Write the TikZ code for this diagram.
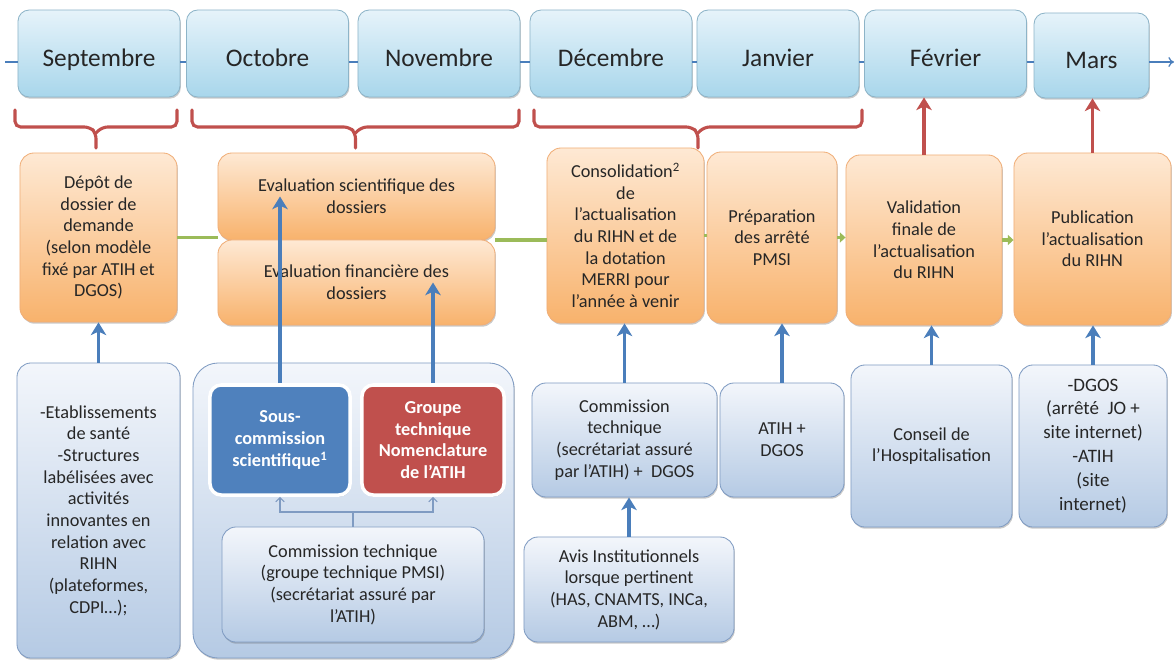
\documentclass[tikz,border=0pt]{standalone}
\usepackage{fontspec}
\setmainfont{Carlito}
\usetikzlibrary{arrows.meta,calc,shadows}

\definecolor{moishaut}{HTML}{E6F3FA}
\definecolor{moisbas}{HTML}{A8D6EB}
\definecolor{moisbord}{HTML}{8DB4C8}
\definecolor{orhaut}{HTML}{FEE9D4}
\definecolor{orbas}{HTML}{F8B26C}
\definecolor{orbord}{HTML}{F0AE78}
\definecolor{blhaut}{HTML}{F3F6FB}
\definecolor{blbas}{HTML}{B5CAE4}
\definecolor{blbord}{HTML}{7F9BC2}
\definecolor{bleuf}{HTML}{4F81BD}
\definecolor{rougef}{HTML}{C0504D}
\definecolor{vertf}{HTML}{9BBB59}
\definecolor{fleche}{HTML}{4A7EBB}
\definecolor{texte}{HTML}{262626}

\begin{document}
\begin{tikzpicture}[x=0.025cm, y=-0.025cm,
        ombre/.style={drop shadow={shadow xshift=0.6pt, shadow yshift=-1.2pt, opacity=.35, fill=black!60}},
        mois/.style={rectangle, rounded corners=8pt, draw=moisbord, line width=0.6pt, top color=moishaut, bottom color=moisbas, minimum width=4.05cm, minimum height=2.175cm, font=\fontsize{18}{22}\selectfont, text=texte, text height=18pt, text depth=0pt, ombre},
        etape/.style={rectangle, rounded corners=10pt, draw=orbord, line width=0.6pt, top color=orhaut, bottom color=orbas, align=center, font=\fontsize{13}{15.4}\selectfont, text=texte, ombre},
        acteur/.style={rectangle, rounded corners=10pt, draw=blbord, line width=0.6pt, top color=blhaut, bottom color=blbas, align=center, font=\fontsize{13}{15.4}\selectfont, text=texte, ombre},
        comite/.style={rectangle, rounded corners=8pt, draw=white, line width=2.5pt, align=center, font=\fontsize{13}{15.4}\selectfont\bfseries, text=white, ombre},
        flecheB/.style={draw=fleche, line width=2.8pt, -{Stealth[length=9pt,width=11pt,inset=2.5pt]}},
        flecheR/.style={draw=rougef, line width=2.8pt, -{Stealth[length=9pt,width=11pt,inset=2.5pt]}},
        accolade/.style={draw=rougef, line width=2.2pt, rounded corners=4pt, line cap=round},
        ligne/.style={draw=fleche, line width=0.9pt},
        vert/.style={draw=vertf, line width=2.8pt},
        fine/.style={draw=blbord, line width=0.8pt}
    ]
        \useasboundingbox (0,0) rectangle (1175,659);

        % Mois
        \node[mois] (sep) at (99,53.5) {Septembre};
        \node[mois] (oct) at (267.5,53.5) {Octobre};
        \node[mois] (nov) at (439,53.5) {Novembre};
        \node[mois] (dec) at (611,53.5) {Décembre};
        \node[mois] (jan) at (778,53.5) {Janvier};
        \node[mois] (feb) at (945.5,53.5) {Février};
        \node[mois, minimum width=2.875cm, minimum height=2.125cm] (mar) at (1091.5,55.5) {Mars};

        % Ligne du temps
        \coordinate (debut) at (5,62);
        \coordinate (fin) at (1174,62);
        \draw[ligne] (debut) -- (sep.west |- debut);
        \foreach \a/\b in {sep/oct,oct/nov,nov/dec,dec/jan,jan/feb,feb/mar}
            \draw[ligne] (\a.east |- debut) -- (\b.west |- debut);
        \draw[ligne,-{To[length=4pt,width=7pt]}] (mar.east |- fin) -- (fin);

        % Accolades
        \foreach \g/\d in {15/177,192/519,534/862}{
            \draw[accolade] (\g,110) |- ({(\g+\d)/2-6},127) -- ({(\g+\d)/2},133) -- ({(\g+\d)/2},148);
            \draw[accolade] (\d,110) |- ({(\g+\d)/2+6},127) -- ({(\g+\d)/2},133);
        }

        % Etapes
        \node[etape, minimum width=3.925cm, minimum height=4.225cm] (dep) at (98.5,237.5)
            {Dépôt de\\dossier de\\demande\\(selon modèle\\fixé par ATIH et\\DGOS)};
        \node[etape, minimum width=6.925cm, minimum height=2.175cm] (evsci) at (356.5,196.5)
            {Evaluation scientifique des\\dossiers};
        \node[etape, minimum width=6.925cm, minimum height=2.125cm] (evfin) at (356.5,282.5)
            {Evaluation financière des\\dossiers};
        \node[etape, minimum width=3.925cm, minimum height=4.375cm] (conso) at (625.5,235.5)
            {Consolidation\textsuperscript{2}\\de\\l’actualisation\\du RIHN et de\\la dotation\\MERRI pour\\l’année à venir};
        \node[etape, minimum width=3.25cm, minimum height=4.275cm] (prep) at (772,237.5)
            {Préparation\\des arrêté\\PMSI};
        \node[etape, minimum width=3.9cm, minimum height=4.25cm] (valid) at (924,240)
            {Validation\\finale de\\l’actualisation\\du RIHN};
        \node[etape, minimum width=3.925cm, minimum height=4.3cm] (publi) at (1092.5,239)
            {Publication\\l’actualisation\\du RIHN};

        % Enchainement des etapes
        \draw[vert] (dep.east) -- (dep.east -| evsci.west);
        \draw[vert] (evfin.north east) -- (evfin.north east -| conso.west);
        \draw[vert] (conso.east) -- (conso.east -| prep.west);
        \draw[vert,-{Triangle[length=4pt,width=7pt]}] (prep.east) -- (prep.east -| valid.west);
        \draw[vert,-{Triangle[length=4pt,width=7pt]}] (valid.east) -- (valid.east -| publi.west);

        % Acteurs
        \node[acteur, minimum width=4.075cm, minimum height=7.375cm] (etab) at (98.5,510.5)
            {-Etablissements\\de santé\\-Structures\\labélisées avec\\activités\\innovantes en\\relation avec\\RIHN\\(plateformes,\\CDPI…);};
        \node[acteur, rounded corners=18pt, minimum width=8.025cm, minimum height=7.375cm] (grp) at (353.5,510.5) {};
        \node[comite, fill=bleuf, minimum width=3.5cm, minimum height=2.75cm] (souscom) at (280,440)
            {Sous-\\commission\\scientifique\textsuperscript{1}};
        \node[comite, fill=rougef, minimum width=3.55cm, minimum height=2.75cm] (gtn) at (433,440)
            {Groupe\\technique\\Nomenclature\\de l’ATIH};
        \node[acteur, minimum width=6.55cm, minimum height=2.875cm] (comtech) at (353,584.5)
            {Commission technique\\(groupe technique PMSI)\\(secrétariat assuré par\\l’ATIH)};
        \node[acteur, minimum width=4.625cm, minimum height=2.85cm] (comdec) at (624.5,440)
            {Commission\\technique\\(secrétariat assuré\\par l’ATIH) +~~DGOS};
        \node[acteur, minimum width=3.1cm, minimum height=2.85cm] (atih) at (782,440)
            {ATIH +\\DGOS};
        \node[acteur, minimum width=5.25cm, minimum height=2.625cm] (avis) at (629,589.5)
            {Avis Institutionnels\\lorsque pertinent\\(HAS, CNAMTS, INCa,\\ABM, …)};
        \node[acteur, minimum width=4.025cm, minimum height=4.05cm] (conseil) at (931.5,446)
            {Conseil de\\l’Hospitalisation};
        \node[acteur, minimum width=3.7cm, minimum height=4.05cm, font=\fontsize{13.5}{17}\selectfont] (dgos) at (1093,446)
            {-DGOS\\(arrêté~~JO +\\site internet)\\-ATIH\\(site\\internet)};

        % Fleches
        \draw[flecheB] (etab.north) -- (dep.south);
        \draw[flecheB] (souscom.north) -- (souscom.north |- evsci.center);
        \draw[flecheB] (gtn.north) -- (gtn.north |- evfin.center);
        \draw[flecheB] (comdec.north) -- (comdec.north |- conso.south);
        \draw[flecheB] (avis.north) -- (avis.north |- comdec.south);
        \draw[flecheB] (atih.north) -- (atih.north |- prep.south);
        \draw[flecheB] (conseil.north) -- (conseil.north |- valid.south);
        \draw[flecheB] (dgos.north) -- (dgos.north |- publi.south);
        \draw[flecheR] (valid.north) -- (valid.north |- feb.south);
        \draw[flecheR] (publi.north) -- (publi.north |- mar.south);

        \coordinate (nivfin) at (0,512);
        \draw[fine] (comtech.north) -- (comtech.north |- nivfin);
        \draw[fine,-{Straight Barb[length=3pt,width=6pt]}] (comtech.north |- nivfin) -| (souscom.south);
        \draw[fine,-{Straight Barb[length=3pt,width=6pt]}] (comtech.north |- nivfin) -| (gtn.south);
    \end{tikzpicture}
\end{document}
